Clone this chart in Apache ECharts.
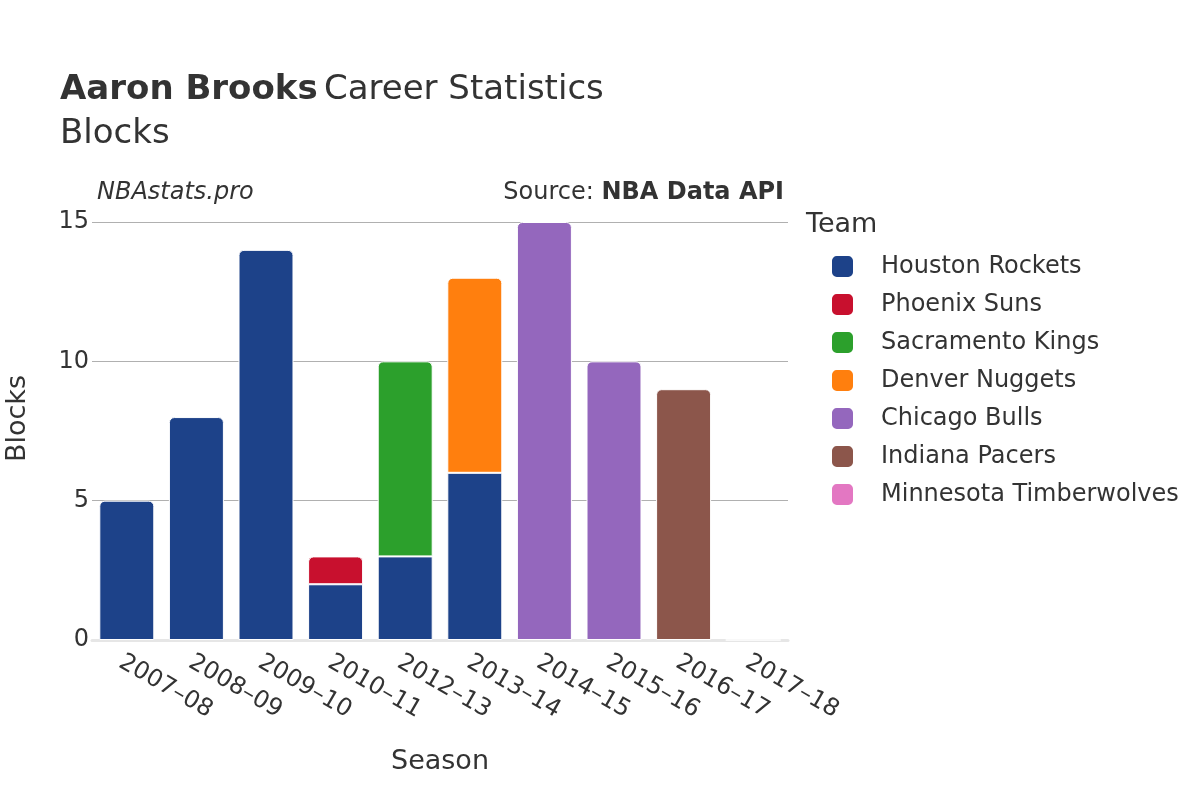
<!DOCTYPE html>
<html>
<head>
<meta charset="utf-8">
<script src="https://cdn.jsdelivr.net/npm/echarts@6/dist/echarts.min.js"></script>
<style>
  html, body { margin: 0; padding: 0; background: #fff; }
  #chart { width: 1200px; height: 800px; }
</style>
</head>
<body>
<div id="chart"></div>
<script>
  // seasons on the x axis
  const seasons = ['2007–08', '2008–09', '2009–10', '2010–11', '2012–13', '2013–14', '2014–15', '2015–16', '2016–17', '2017–18']
  const teams = ['Houston Rockets', 'Phoenix Suns', 'Sacramento Kings', 'Denver Nuggets', 'Chicago Bulls', 'Indiana Pacers', 'Minnesota Timberwolves']
  const teamColors = ['#1d4289', '#c8102e', '#2ca02c', '#ff7f0e', '#9467bd', '#8c564b', '#e377c2']
  // blocks per team per season (null = did not play there)
  const houston = [5, 8, 14, 2, 3, 6, null, null, null, null]
  const phoenix = [null, null, null, 1, null, null, null, null, null, null]
  const sacramento = [null, null, null, null, 7, null, null, null, null, null]
  const denver = [null, null, null, null, null, 7, null, null, null, null]
  const chicago = [null, null, null, null, null, null, 15, 10, null, null]
  const indiana = [null, null, null, null, null, null, null, null, 9, null]
  const minnesota = [null, null, null, null, null, null, null, null, null, 0]
  const yTicks = [0, 5, 10, 15]

  const teamValues = [houston, phoenix, sacramento, denver, chicago, indiana, minnesota]

  // only the top segment of each stack gets rounded corners
  function isTop(si, ci) {
    for (let k = si + 1; k < teamValues.length; k++) {
      if (teamValues[k][ci] != null) return false
    }
    return true
  }

  const series = teams.map((name, si) => ({
    name: name,
    type: 'bar',
    stack: 'total',
    barWidth: '79%',
    itemStyle: { color: teamColors[si], borderColor: '#ffffff', borderWidth: 1 },
    data: teamValues[si].map((v, ci) => v == null ? null : {
      value: v,
      itemStyle: { borderRadius: isTop(si, ci) ? [5, 5, 0, 0] : 0 }
    })
  }))

  const chart = echarts.init(document.getElementById('chart'))
  chart.setOption({
    animation: false,
    textStyle: { fontFamily: 'DejaVu Sans' },
    title: {
      left: 60,
      top: 68,
      padding: 0,
      text: '{b|Aaron Brooks} {n|Career Statistics}\n{n|Blocks}',
      textStyle: {
        rich: {
          b: { fontSize: 34, fontWeight: 'bold', color: '#333', fontFamily: 'DejaVu Sans', lineHeight: 44 },
          n: { fontSize: 34, fontWeight: 'normal', color: '#333', fontFamily: 'DejaVu Sans', lineHeight: 44 }
        }
      }
    },
    graphic: [
      {
        type: 'text', left: 97, top: 181,
        style: { text: 'NBAstats.pro', fontSize: 24, fontStyle: 'italic', fill: '#333', fontFamily: 'DejaVu Sans' }
      },
      {
        type: 'text', right: 416, top: 181,
        style: {
          text: '{n|Source: }{b|NBA Data API}',
          rich: {
            n: { fontSize: 24, fill: '#333', fontFamily: 'DejaVu Sans' },
            b: { fontSize: 24, fontWeight: 'bold', fill: '#333', fontFamily: 'DejaVu Sans' }
          }
        }
      },
      {
        type: 'text', left: 806, top: 211,
        style: { text: 'Team', fontSize: 27, fill: '#333', fontFamily: 'DejaVu Sans' }
      },
      {
        type: 'text', left: 4, top: 375, rotation: Math.PI / 2,
        style: { text: 'Blocks', fontSize: 27, fill: '#333', fontFamily: 'DejaVu Sans' }
      }
    ],
    legend: {
      orient: 'vertical',
      left: 830,
      top: 254,
      padding: 0,
      itemWidth: 23,
      itemHeight: 23,
      itemGap: 13,
      icon: 'roundRect',
      data: teams,
      textStyle: { fontSize: 24, color: '#333', fontFamily: 'DejaVu Sans', padding: [0, 0, 0, 22] }
    },
    grid: { left: 92, top: 222, width: 696, height: 418, containLabel: false },
    xAxis: {
      type: 'category',
      data: seasons,
      name: 'Season',
      nameLocation: 'middle',
      nameGap: 108,
      nameTextStyle: { fontSize: 27, color: '#333' },
      axisLine: { show: true, lineStyle: { color: '#e6e6e6', width: 3 } },
      axisTick: { show: false },
      axisLabel: { rotate: -30, fontSize: 24, color: '#333', margin: 24, padding: [0, 0, 0, -7] }
    },
    yAxis: {
      type: 'value',
      min: yTicks[0],
      max: yTicks[yTicks.length - 1],
      interval: 5,
      axisLine: { show: false },
      axisTick: { show: false },
      axisLabel: { fontSize: 24, color: '#333', margin: 3, padding: [4, 0, 0, 0] },
      splitLine: { lineStyle: { color: '#b0b0b0', width: 1 } }
    },
    series: series
  })
</script>
</body>
</html>
